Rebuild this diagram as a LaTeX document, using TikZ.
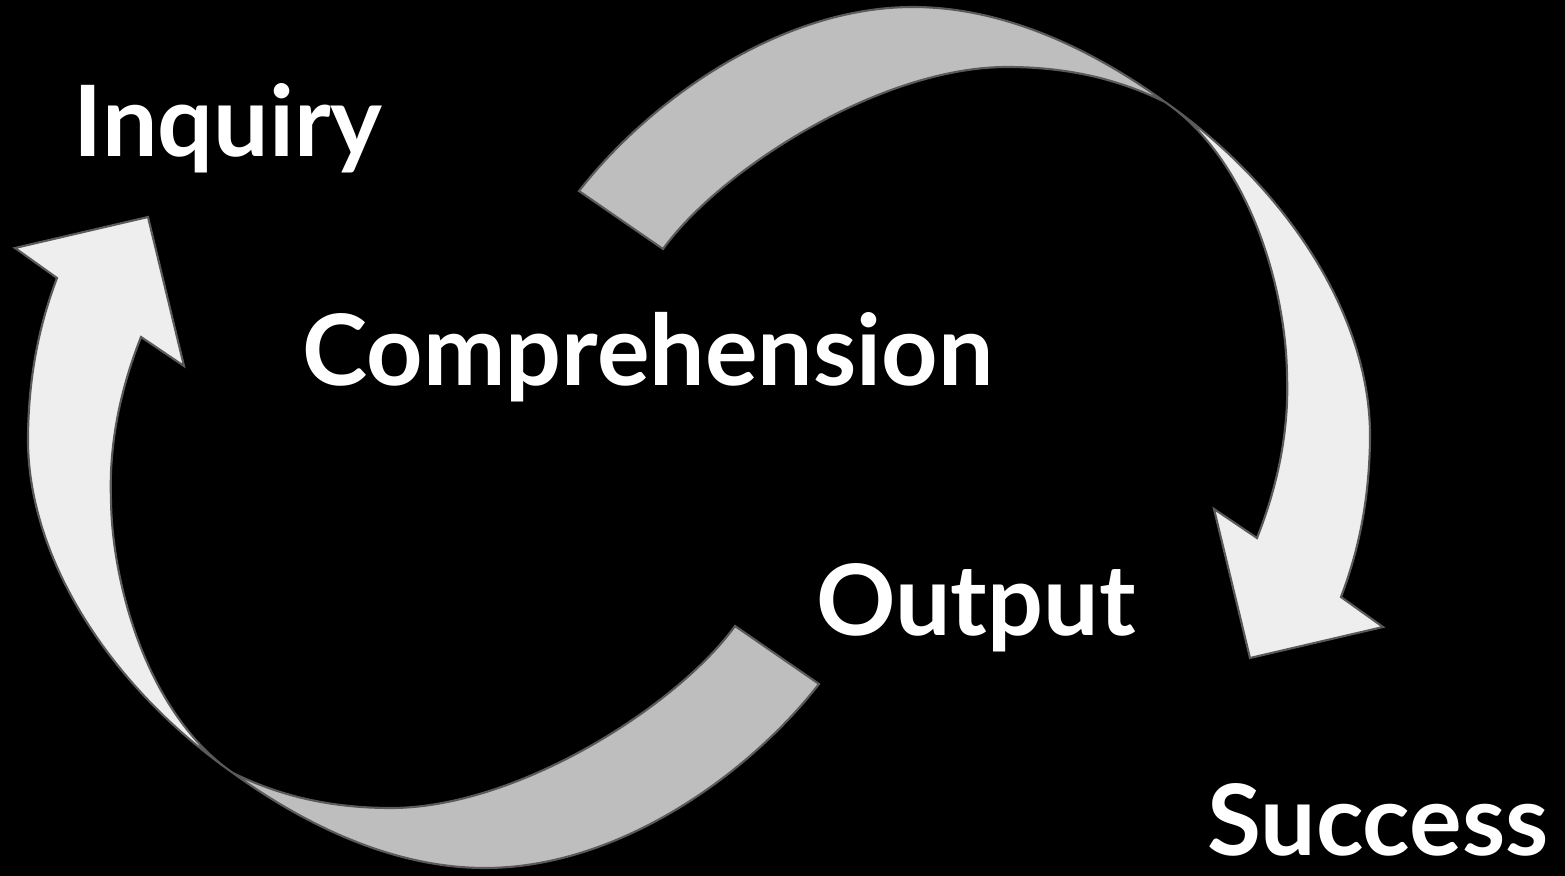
\documentclass[tikz,border=0pt]{standalone}
\usepackage{fontspec}
\setmainfont{Lato}

\definecolor{ribbonback}{HTML}{BEBEBE}
\definecolor{ribbonfront}{HTML}{EEEEEE}
\definecolor{ribbonedge}{HTML}{5A5A5A}

\tikzset{
    back/.style={fill=ribbonback, draw=ribbonedge, line width=0.6pt},
    front/.style={fill=ribbonfront, draw=ribbonedge, line width=0.6pt},
    word/.style={text=white, inner sep=0pt,
        font=\bfseries\fontsize{28}{30}\selectfont}
}

% one twisted curved arrow, in pixel units
\newcommand{\loopribbon}{%
    % back side, from the tail to the twist
    \draw[back]
        (579,191)
        .. controls (650,100) and (780,7) ..
        (913,7)
        .. controls (1010,7) and (1100,55) ..
        (1165,102)
        .. controls (1120,80) and (1070,67) ..
        (1007,67)
        .. controls (880,67) and (720,170) ..
        (663,249) -- cycle;
    % front side, from the twist to the head
    \draw[front]
        (1165,102)
        .. controls (1290,190) and (1372,320) ..
        (1370,440)
        .. controls (1369,510) and (1355,560) ..
        (1341,597)
        -- (1383,627) -- (1250,658) -- (1214,509) -- (1257,538)
        .. controls (1280,480) and (1289,425) ..
        (1287,375)
        .. controls (1286,290) and (1250,160) ..
        (1165,102) -- cycle;
}

\begin{document}
\begin{tikzpicture}[x=0.01cm, y=-0.01cm]

    % Background
    \fill[black] (0,0) rectangle (1565,876);
    \useasboundingbox (0,0) rectangle (1565,876);

    % Arrows
    \begin{scope}
        \loopribbon
    \end{scope}
    \begin{scope}[rotate around={180:(699,437.5)}]
        \loopribbon
    \end{scope}

    % Labels
    \node[word, anchor=base] (inquiry) at (228,157) {Inquiry};
    \node[word, anchor=base] (comprehension) at (648,386) {Comprehension};
    \node[word, anchor=base] (output) at (976,636) {Output};
    \node[word, anchor=base] (success) at (1378,856) {Success};

\end{tikzpicture}
\end{document}
